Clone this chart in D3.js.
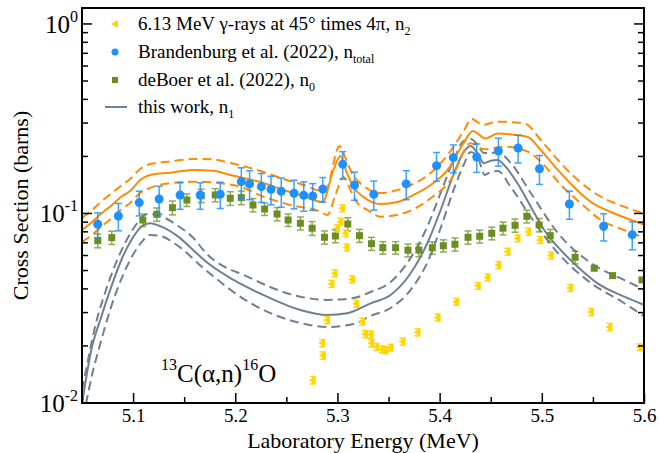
<!DOCTYPE html>
<html>
<head>
<meta charset="utf-8">
<script src="https://cdn.jsdelivr.net/npm/d3@7"></script>
<style>
body { margin: 0; background: #fff; }
svg { display: block; }
text { font-family: "Liberation Serif", "Tinos", "Times New Roman", "Nimbus Roman", "DejaVu Serif", serif; fill: #000; }
</style>
</head>
<body>
<svg id="chart" width="659" height="453"></svg>
<script>
// 6.13 MeV gamma-rays at 45 deg times 4pi, n2
const gammaE = [5.2758, 5.2850, 5.2856, 5.2899, 5.2941, 5.2971, 5.2997, 5.3029, 5.3044, 5.3078, 5.3088, 5.3142, 5.3183, 5.3242, 5.3270, 5.3324, 5.3330, 5.3382, 5.3436, 5.3471, 5.3520, 5.3637, 5.3784, 5.3980, 5.4162, 5.4373, 5.4468, 5.4574, 5.4664, 5.4762, 5.4868, 5.4980, 5.5088, 5.5277, 5.5482, 5.5662, 5.5958]
const gammaXS = [0.0132, 0.0207, 0.0178, 0.0274, 0.0425, 0.0484, 0.0836, 0.0905, 0.1065, 0.0786, 0.0662, 0.0449, 0.0334, 0.0269, 0.0231, 0.0230, 0.0207, 0.0198, 0.0192, 0.0190, 0.0196, 0.0211, 0.0236, 0.0283, 0.0342, 0.0415, 0.0460, 0.0535, 0.0629, 0.0740, 0.0802, 0.0725, 0.0600, 0.0405, 0.0302, 0.0252, 0.0197]
const gammaErr = [0.0006, 0.0009, 0.0008, 0.0012, 0.0018, 0.0020, 0.0035, 0.0038, 0.0045, 0.0033, 0.0028, 0.0019, 0.0014, 0.0011, 0.0010, 0.0010, 0.0009, 0.0008, 0.0008, 0.0008, 0.0008, 0.0009, 0.0010, 0.0012, 0.0014, 0.0017, 0.0019, 0.0022, 0.0026, 0.0031, 0.0034, 0.0030, 0.0025, 0.0017, 0.0013, 0.0011, 0.0008]

// Brandenburg et al. (2022), n_total
const brandE = [5.0654, 5.0856, 5.1060, 5.1255, 5.1460, 5.1657, 5.1853, 5.2059, 5.2140, 5.2255, 5.2350, 5.2450, 5.2575, 5.2670, 5.2758, 5.2856, 5.3052, 5.3167, 5.3356, 5.3673, 5.3970, 5.4134, 5.4363, 5.4575, 5.4768, 5.4977, 5.5270, 5.5605, 5.5885]
const brandXS = [0.0877, 0.0970, 0.1141, 0.1193, 0.1252, 0.1252, 0.1262, 0.1472, 0.1432, 0.1385, 0.1342, 0.1309, 0.1278, 0.1248, 0.1237, 0.1347, 0.1819, 0.1414, 0.1262, 0.1432, 0.1788, 0.1970, 0.1987, 0.2137, 0.2216, 0.1723, 0.1122, 0.0856, 0.0773]
const brandErr = [0.013, 0.016, 0.017, 0.020, 0.020, 0.020, 0.020, 0.027, 0.025, 0.024, 0.023, 0.023, 0.022, 0.022, 0.020, 0.020, 0.030, 0.024, 0.022, 0.025, 0.031, 0.033, 0.034, 0.036, 0.037, 0.030, 0.019, 0.014, 0.013]

// deBoer et al. (2022), n0
const deboerE = [5.0654, 5.0791, 5.1095, 5.1232, 5.1385, 5.1526, 5.1667, 5.1804, 5.1951, 5.2059, 5.2173, 5.2287, 5.2409, 5.2517, 5.2637, 5.2752, 5.2873, 5.2980, 5.3101, 5.3216, 5.3333, 5.3444, 5.3569, 5.3690, 5.3797, 5.3928, 5.4036, 5.4150, 5.4278, 5.4392, 5.4510, 5.4620, 5.4738, 5.4853, 5.4974, 5.5082, 5.5326, 5.5513, 5.5693, 5.5980]
const deboerXS = [0.0719, 0.0746, 0.0924, 0.0990, 0.1073, 0.1178, 0.1241, 0.1252, 0.1203, 0.1213, 0.1109, 0.1056, 0.0994, 0.0924, 0.0888, 0.0836, 0.0749, 0.0761, 0.0880, 0.0764, 0.0693, 0.0660, 0.0660, 0.0640, 0.0641, 0.0659, 0.0676, 0.0688, 0.0749, 0.0758, 0.0786, 0.0836, 0.0866, 0.0966, 0.0870, 0.0764, 0.0587, 0.0514, 0.0470, 0.0446]
const deboerErr = [0.006, 0.006, 0.007, 0.008, 0.009, 0.009, 0.010, 0.010, 0.010, 0.010, 0.009, 0.008, 0.008, 0.007, 0.007, 0.007, 0.006, 0.006, 0.007, 0.006, 0.0055, 0.005, 0.005, 0.005, 0.005, 0.005, 0.005, 0.0055, 0.006, 0.006, 0.006, 0.0065, 0.007, 0.0075, 0.007, 0.006, 0.0045, 0, 0, 0]

// total fit (orange) with uncertainty band
const totE = [5.0500, 5.0598, 5.0696, 5.0794, 5.0892, 5.0971, 5.1069, 5.1167, 5.1363, 5.1588, 5.1784, 5.1951, 5.2078, 5.2275, 5.2471, 5.2667, 5.2853, 5.2961, 5.3029, 5.3088, 5.3157, 5.3255, 5.3422, 5.3588, 5.3745, 5.3912, 5.4078, 5.4235, 5.4324, 5.4451, 5.4569, 5.4745, 5.4863, 5.4990, 5.5157, 5.5314, 5.5480, 5.5676, 5.5902, 5.6010]
const totXS = [0.0818, 0.0902, 0.1006, 0.1109, 0.1237, 0.1314, 0.1502, 0.1597, 0.1642, 0.1697, 0.1682, 0.1597, 0.1539, 0.1449, 0.1331, 0.1237, 0.1150, 0.1697, 0.2011, 0.1656, 0.1380, 0.1222, 0.1122, 0.1150, 0.1252, 0.1414, 0.1697, 0.2355, 0.2725, 0.2488, 0.2644, 0.2596, 0.2533, 0.2163, 0.1697, 0.1380, 0.1150, 0.1018, 0.0913, 0.0870]
const totHiE = [5.0500, 5.0598, 5.0696, 5.0794, 5.0892, 5.0971, 5.1069, 5.1167, 5.1363, 5.1588, 5.1784, 5.1951, 5.2078, 5.2275, 5.2471, 5.2667, 5.2853, 5.2912, 5.2961, 5.3020, 5.3078, 5.3137, 5.3255, 5.3422, 5.3588, 5.3745, 5.3912, 5.4078, 5.4235, 5.4314, 5.4422, 5.4569, 5.4745, 5.4843, 5.4990, 5.5157, 5.5353, 5.5549, 5.5804, 5.6010]
const totHiXS = [0.0947, 0.1043, 0.1164, 0.1283, 0.1414, 0.1521, 0.1718, 0.1824, 0.1880, 0.1939, 0.1928, 0.1847, 0.1780, 0.1656, 0.1521, 0.1414, 0.1314, 0.1414, 0.1847, 0.2271, 0.1963, 0.1656, 0.1397, 0.1283, 0.1331, 0.1432, 0.1636, 0.2036, 0.2725, 0.3152, 0.2931, 0.3051, 0.3022, 0.2968, 0.2443, 0.1915, 0.1502, 0.1252, 0.1086, 0.0994]
const totLoE = [5.0500, 5.0598, 5.0696, 5.0794, 5.0892, 5.0971, 5.1069, 5.1167, 5.1363, 5.1627, 5.1853, 5.2049, 5.2275, 5.2539, 5.2833, 5.2902, 5.2980, 5.3059, 5.3127, 5.3196, 5.3294, 5.3422, 5.3647, 5.3912, 5.4108, 5.4304, 5.4431, 5.4627, 5.4863, 5.5020, 5.5186, 5.5382, 5.5578, 5.5804, 5.6010]
const totLoXS = [0.0707, 0.0770, 0.0859, 0.0947, 0.1056, 0.1136, 0.1283, 0.1364, 0.1444, 0.1472, 0.1444, 0.1385, 0.1226, 0.1109, 0.1022, 0.0982, 0.1252, 0.1558, 0.1331, 0.1136, 0.1043, 0.0962, 0.1002, 0.1203, 0.1502, 0.2347, 0.2182, 0.2251, 0.2119, 0.1803, 0.1414, 0.1132, 0.0924, 0.0818, 0.0743]

// this work, n1 (grey) with uncertainty band
const n1E = [5.0500, 5.0591, 5.0689, 5.0787, 5.0885, 5.0983, 5.1081, 5.1164, 5.1277, 5.1441, 5.1605, 5.1735, 5.1983, 5.2311, 5.2637, 5.2899, 5.3095, 5.3324, 5.3520, 5.3716, 5.3879, 5.4010, 5.4140, 5.4238, 5.4304, 5.4370, 5.4434, 5.4500, 5.4566, 5.4630, 5.4762, 5.4892, 5.5023, 5.5154, 5.5350, 5.5546, 5.5807, 5.6003]
const n1XS = [0.00988, 0.01904, 0.02854, 0.0411, 0.05683, 0.07249, 0.08518, 0.08879, 0.08518, 0.07545, 0.06285, 0.0546, 0.04458, 0.03639, 0.03096, 0.02913, 0.02974, 0.03358, 0.03715, 0.04835, 0.06963, 0.1043, 0.1630, 0.2119, 0.2271, 0.2078, 0.1840, 0.1899, 0.1915, 0.1803, 0.1444, 0.1086, 0.0818, 0.0668, 0.0524, 0.0428, 0.0364, 0.0329]
const n1HiE = [5.0500, 5.0559, 5.0627, 5.0725, 5.0824, 5.0922, 5.1020, 5.1088, 5.1147, 5.1265, 5.1441, 5.1608, 5.1686, 5.2147, 5.2637, 5.2902, 5.3157, 5.3324, 5.3520, 5.3716, 5.3882, 5.4010, 5.4137, 5.4235, 5.4304, 5.4373, 5.4431, 5.4500, 5.4569, 5.4696, 5.4892, 5.5157, 5.5480, 5.5804, 5.6010]
const n1HiXS = [0.01171, 0.01686, 0.02518, 0.03806, 0.05349, 0.06989, 0.08592, 0.09583, 0.0994, 0.0970, 0.0859, 0.0725, 0.0642, 0.0457, 0.0364, 0.0350, 0.0358, 0.0385, 0.0435, 0.0583, 0.0859, 0.1283, 0.1915, 0.2413, 0.2473, 0.2299, 0.2086, 0.2086, 0.2112, 0.1847, 0.1283, 0.0789, 0.0548, 0.0446, 0.0395]
const n1LoE = [5.0539, 5.0598, 5.0676, 5.0775, 5.0873, 5.0971, 5.1069, 5.1167, 5.1265, 5.1441, 5.1686, 5.2147, 5.2637, 5.2902, 5.3157, 5.3324, 5.3520, 5.3716, 5.3882, 5.4010, 5.4137, 5.4235, 5.4304, 5.4373, 5.4441, 5.4500, 5.4569, 5.4696, 5.4892, 5.5157, 5.5480, 5.5804, 5.6010]
const n1LoXS = [0.00988, 0.01405, 0.02024, 0.03096, 0.0435, 0.05683, 0.06905, 0.0770, 0.0761, 0.0674, 0.0516, 0.0337, 0.02643, 0.02518, 0.02611, 0.02878, 0.03171, 0.0395, 0.05548, 0.0838, 0.1331, 0.1803, 0.2112, 0.1987, 0.1597, 0.1656, 0.1676, 0.1380, 0.0958, 0.0619, 0.0430, 0.0337, 0.02843]

const xTicks = [5.1, 5.2, 5.3, 5.4, 5.5, 5.6]
const xMinor = [5.05, 5.15, 5.25, 5.35, 5.45, 5.55]
const yTicks = [0.01, 0.1, 1]
const yTickExp = ['-2', '-1', '0']
const legendLabels = [['6.13 MeV \u03b3-rays at 45\u00b0 times 4\u03c0, n', '2'], ['Brandenburg et al. (2022), n', 'total'], ['deBoer et al. (2022), n', '0'], ['this work, n', '1']]

const orange = '#ff8c00'
const grey = '#708090'
const blue = '#1e90ff'
const green = '#6b8e23'
const gold = '#ffd700'
const serif = '"Liberation Serif", "Tinos", "Times New Roman", "Nimbus Roman", "DejaVu Serif", serif'

const svg = d3.select('#chart')
const W = 659, H = 453
const margin = { left: 82, right: 15, top: 8, bottom: 50 }
const plotW = W - margin.left - margin.right
const plotH = H - margin.top - margin.bottom

const x = d3.scaleLinear().domain([5.05, 5.6]).range([0, plotW])
const y = d3.scaleLog().domain([0.01, 1.214]).range([plotH, 0])

const g = svg.append('g').attr('transform', `translate(${margin.left},${margin.top})`)

g.append('clipPath').attr('id', 'clip')
	.append('rect').attr('width', plotW).attr('height', plotH)

const plot = g.append('g').attr('clip-path', 'url(#clip)')

function zip(es, vs) { return es.map((e, i) => [e, vs[i]]) }

const line = d3.line()
	.x(d => x(d[0]))
	.y(d => y(Math.max(d[1], 1e-4)))
	.curve(d3.curveMonotoneX)

function drawCurve(es, vs, color, dashed) {
	plot.append('path')
		.datum(zip(es, vs))
		.attr('d', line)
		.attr('fill', 'none')
		.attr('stroke', color)
		.attr('stroke-width', 2)
		.attr('stroke-dasharray', dashed ? '9,5' : null)
}

drawCurve(n1HiE, n1HiXS, grey, true)
drawCurve(n1LoE, n1LoXS, grey, true)
drawCurve(n1E, n1XS, grey, false)
drawCurve(totHiE, totHiXS, orange, true)
drawCurve(totLoE, totLoXS, orange, true)
drawCurve(totE, totXS, orange, false)

// error bars
function errorBars(es, vs, errs, color, cap, op) {
	const data = zip(es, vs).map((d, i) => ({ e: d[0], v: d[1], err: errs[i] }))
		.filter(d => d.err > 0)
	const eg = plot.append('g').attr('stroke', color).attr('stroke-width', 1.5).attr('opacity', op)
	data.forEach(d => {
		const cx = x(d.e)
		const y1 = y(d.v + d.err), y2 = y(Math.max(d.v - d.err, 1e-4))
		eg.append('line').attr('x1', cx).attr('x2', cx).attr('y1', y1).attr('y2', y2)
		eg.append('line').attr('x1', cx - cap).attr('x2', cx + cap).attr('y1', y1).attr('y2', y1)
		eg.append('line').attr('x1', cx - cap).attr('x2', cx + cap).attr('y1', y2).attr('y2', y2)
	})
}

errorBars(deboerE, deboerXS, deboerErr, green, 3.5, 0.75)
plot.append('g').selectAll('rect')
	.data(zip(deboerE, deboerXS))
	.join('rect')
	.attr('x', d => x(d[0]) - 3.5)
	.attr('y', d => y(d[1]) - 3.5)
	.attr('width', 7).attr('height', 7)
	.attr('fill', green)

errorBars(gammaE, gammaXS, gammaErr, gold, 3, 1)
const tri = 'M-4,0L3,-4L3,4Z'
plot.append('g').selectAll('path')
	.data(zip(gammaE, gammaXS))
	.join('path')
	.attr('transform', d => `translate(${x(d[0])},${y(d[1])})`)
	.attr('d', tri)
	.attr('fill', gold)

errorBars(brandE, brandXS, brandErr, blue, 3.5, 0.85)
plot.append('g').selectAll('circle')
	.data(zip(brandE, brandXS))
	.join('circle')
	.attr('cx', d => x(d[0]))
	.attr('cy', d => y(d[1]))
	.attr('r', 4.5)
	.attr('fill', blue)

// frame and ticks
g.append('rect').attr('width', plotW).attr('height', plotH)
	.attr('fill', 'none').attr('stroke', '#000').attr('stroke-width', 2)

const xAxis = g.append('g').attr('transform', `translate(0,${plotH})`)
	.call(d3.axisBottom(x).tickValues(xTicks).tickSize(-10).tickPadding(6).tickFormat(d3.format('.1f')))
xAxis.select('.domain').remove()
xAxis.attr('font-family', null).attr('font-size', null)
xAxis.selectAll('line').attr('stroke-width', 1.5)
xAxis.selectAll('text').attr('font-size', 19).attr('font-family', serif)

const xMin = g.append('g').attr('transform', `translate(0,${plotH})`)
	.call(d3.axisBottom(x).tickValues(xMinor).tickSize(-6).tickFormat(''))
xMin.select('.domain').remove()
xMin.selectAll('line').attr('stroke-width', 1.5)

const yMinor = []
for (let p = -2; p < 1; p++) for (let k = 2; k < 10; k++) if (k * Math.pow(10, p) < 1.214) yMinor.push(k * Math.pow(10, p))

;[0, plotW].forEach((px, side) => {
	const dir = side === 0 ? 1 : -1
	const ag = g.append('g').attr('stroke', '#000').attr('stroke-width', 1.5)
	yTicks.forEach(v => ag.append('line').attr('x1', px).attr('x2', px + dir * 10).attr('y1', y(v)).attr('y2', y(v)))
	yMinor.forEach(v => ag.append('line').attr('x1', px).attr('x2', px + dir * 6).attr('y1', y(v)).attr('y2', y(v)))
})

yTicks.forEach((v, i) => {
	const t = g.append('text')
		.attr('x', -4).attr('y', y(v) + 9)
		.attr('text-anchor', 'end')
		.attr('font-size', 25)
	t.append('tspan').text('10')
	t.append('tspan').attr('font-size', 16).attr('dy', -11).text(yTickExp[i])
})

// axis titles
svg.append('text')
	.attr('x', margin.left + plotW / 2).attr('y', 448)
	.attr('text-anchor', 'middle').attr('font-size', 22)
	.text('Laboratory Energy (MeV)')

svg.append('text')
	.attr('transform', `translate(28,${margin.top + plotH / 2}) rotate(-90)`)
	.attr('text-anchor', 'middle').attr('font-size', 22)
	.text('Cross Section (barns)')

// reaction label
const rl = svg.append('text').attr('x', 161).attr('y', 382).attr('font-size', 25)
rl.append('tspan').attr('font-size', 16).attr('dy', -12).text('13')
rl.append('tspan').attr('dy', 12).text('C(\u03b1,n)')
rl.append('tspan').attr('font-size', 16).attr('dy', -12).text('16')
rl.append('tspan').attr('dy', 12).text('O')

// legend
const legY = [24, 52, 80, 107]
const leg = svg.append('g')
leg.append('path').attr('transform', `translate(115,${legY[0]})`).attr('d', tri).attr('fill', gold)
leg.append('circle').attr('cx', 115).attr('cy', legY[1]).attr('r', 3.5).attr('fill', blue)
leg.append('rect').attr('x', 112).attr('y', legY[2] - 3).attr('width', 6).attr('height', 6).attr('fill', green)
leg.append('line').attr('x1', 105).attr('x2', 127).attr('y1', legY[3]).attr('y2', legY[3])
	.attr('stroke', grey).attr('stroke-width', 2)

legendLabels.forEach((lab, i) => {
	const t = leg.append('text').attr('x', 138).attr('y', legY[i] + 6).attr('font-size', 19)
	t.append('tspan').text(lab[0])
	t.append('tspan').attr('font-size', 12).attr('dy', 5).text(lab[1])
})
</script>
</body>
</html>
